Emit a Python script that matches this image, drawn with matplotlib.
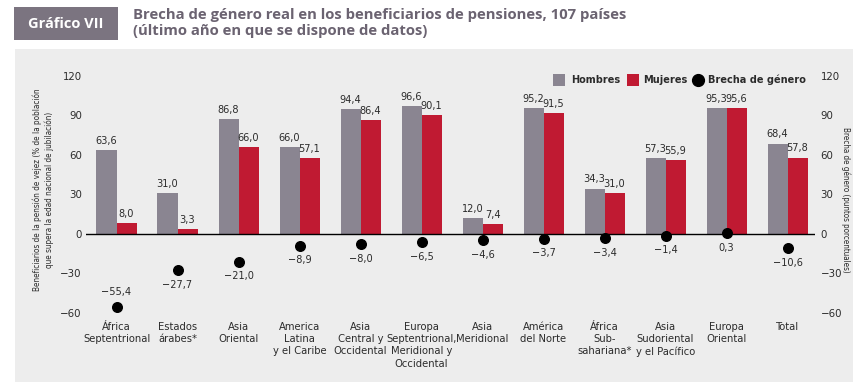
import matplotlib
matplotlib.use("Agg")
import matplotlib.pyplot as plt
from matplotlib.patches import Rectangle
import numpy as np

categories = ["África\nSeptentrional", "Estados\nárabes*", "Asia\nOriental",
              "America\nLatina\ny el Caribe", "Asia\nCentral y\nOccidental",
              "Europa\nSeptentrional,\nMeridional y\nOccidental", "Asia\nMeridional",
              "América\ndel Norte", "África\nSub-\nsahariana*", "Asia\nSudoriental\ny el Pacífico",
              "Europa\nOriental", "Total"]
hombres = [63.6, 31.0, 86.8, 66.0, 94.4, 96.6, 12.0, 95.2, 34.3, 57.3, 95.3, 68.4]
mujeres = [8.0, 3.3, 66.0, 57.1, 86.4, 90.1, 7.4, 91.5, 31.0, 55.9, 95.6, 57.8]
brecha = [-55.4, -27.7, -21.0, -8.9, -8.0, -6.5, -4.6, -3.7, -3.4, -1.4, 0.3, -10.6]
yticks = [-60, -30, 0, 30, 60, 90, 120]
legend_labels = ["Hombres", "Mujeres", "Brecha de género"]

C_H = "#8a8591"
C_M = "#c01a32"
TXT = "#2b2b2b"
TITLE_C = "#6b6371"

FAM = "DejaVu Sans"
def fp(size, weight="normal"):
    return dict(family=FAM, stretch="condensed", fontsize=size, fontweight=weight)

def fmt(v):
    s = f"{v:.1f}".replace(".", ",")
    return s.replace("-", "\u2212")

W, H = 854, 382
fig = plt.figure(figsize=(W / 100, H / 100), dpi=100)
fig.patch.set_facecolor("white")
def px(xp, yp):
    return xp / W, 1 - yp / H

fig.patches.append(Rectangle((15 / W, 0), (W - 15) / W, (H - 49) / H, transform=fig.transFigure,
                             facecolor="#ededed", edgecolor="none", zorder=-10))
fig.patches.append(Rectangle(px(14, 40), 104 / W, 33 / H, transform=fig.transFigure,
                             facecolor="#7b7480", edgecolor="none", zorder=1))
fig.text(*px(66, 23.5), "Gráfico VII", color="white", fontsize=10.5, fontweight="bold",
         family="Open Sans", ha="center", va="center")
fig.text(*px(133, 14.5), "Brecha de género real en los beneficiarios de pensiones, 107 países",
         color=TITLE_C, fontsize=10.7, fontweight="bold", family="Open Sans", ha="left", va="center")
fig.text(*px(133, 31.5), "(último año en que se dispone de datos)",
         color=TITLE_C, fontsize=10.7, fontweight="bold", family="Open Sans", ha="left", va="center")

x0, x1 = 86, 815
ytop, ybot = 75.5, 313
ax = fig.add_axes([x0 / W, 1 - ybot / H, (x1 - x0) / W, (ybot - ytop) / H])
ax.set_facecolor("none")
ax.set_xlim(-0.5, 11.45)
ax.set_ylim(-60, 120)
for s in ax.spines.values():
    s.set_visible(False)
ax.set_xticks([])
ax.set_yticks(yticks)
ax.set_yticklabels([str(t).replace("-", "\u2212") for t in yticks], color=TXT, **fp(8.2))
ax.tick_params(axis="y", length=0, pad=3)
ax2 = ax.twinx()
ax2.set_ylim(-60, 120)
for s in ax2.spines.values():
    s.set_visible(False)
ax2.set_yticks(yticks)
ax2.set_yticklabels([str(t).replace("-", "\u2212") for t in yticks], color=TXT, **fp(8.2))
ax2.tick_params(axis="y", length=0, pad=4)

x = np.arange(len(categories))
bw = 0.328
ax.bar(x - bw / 2, hombres, bw, color=C_H, zorder=2)
ax.bar(x + bw / 2, mujeres, bw, color=C_M, zorder=2)
ax.axhline(0, color="black", lw=1, zorder=3)
ax.scatter(x, brecha, s=48, color="black", zorder=4, clip_on=False)

for i in range(len(x)):
    ax.annotate(fmt(hombres[i]), (x[i] - bw / 2, hombres[i]), xytext=(0, 3), textcoords="offset points",
                ha="center", va="bottom", color=TXT, **fp(7.8))
    ax.annotate(fmt(mujeres[i]), (x[i] + bw / 2, mujeres[i]), xytext=(0, 3), textcoords="offset points",
                ha="center", va="bottom", color=TXT, **fp(7.8))
    if i == 0:
        ax.annotate(fmt(brecha[i]), (x[i], brecha[i]), xytext=(0, 7), textcoords="offset points",
                    ha="center", va="bottom", color=TXT, **fp(7.8))
    else:
        ax.annotate(fmt(brecha[i]), (x[i], brecha[i]), xytext=(0, -7), textcoords="offset points",
                    ha="center", va="top", color=TXT, **fp(7.8))
    ax.text(x[i], -66.5, categories[i], ha="center", va="top", color=TXT, linespacing=1.3, **fp(8))

fig.text(*px(43, 190),
         "Beneficiarios de la pensión de vejez (% de la población\nque supera la edad nacional de jubilación)",
         rotation=90, ha="center", va="center", color=TXT, linespacing=1.3, **fp(5.9))
fig.text(*px(846, 200), "Brecha de género (puntos porcentuales)", rotation=270,
         ha="center", va="center", color=TXT, **fp(5.8))

# legend (drawn manually at the reference positions)
ly = 80
fig.patches.append(Rectangle(px(553, ly + 6), 12 / W, 12 / H, transform=fig.transFigure,
                             facecolor=C_H, edgecolor="none"))
fig.patches.append(Rectangle(px(627, ly + 6), 12 / W, 12 / H, transform=fig.transFigure,
                             facecolor=C_M, edgecolor="none"))
fig.add_artist(plt.Line2D([698 / W], [1 - ly / H], marker="o", ms=8.5, color="black",
                          transform=fig.transFigure))
for xt, lab in zip([571, 643, 708], legend_labels):
    fig.text(*px(xt, ly), lab, ha="left", va="center", color=TXT, **fp(7.8, "bold"))

fig.savefig("out.png", dpi=100)
